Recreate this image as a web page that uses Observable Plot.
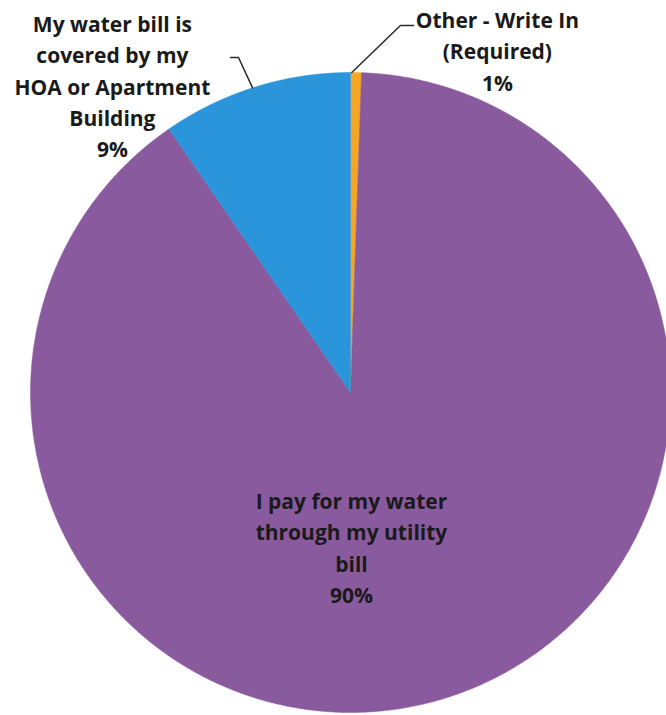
<!DOCTYPE html>
<html>
<head>
<meta charset="utf-8">
<script src="https://cdn.jsdelivr.net/npm/d3@7"></script>
<script src="https://cdn.jsdelivr.net/npm/@observablehq/plot@0.6"></script>
<style>
  html, body { margin: 0; padding: 0; background: #fff; }
  #chart svg { display: block; overflow: hidden; }
</style>
</head>
<body>
<div id="chart"></div>
<script>
// ---- data (clockwise from 12 o'clock) ----
const categories = [
  "Other - Write In (Required)",
  "I pay for my water through my utility bill",
  "My water bill is covered by my HOA or Apartment Building"
];
const shares = [0.55, 89.85, 9.6];
const pctLabels = ["1%", "90%", "9%"];
const labelLines = [
  ["Other - Write In", "(Required)"],
  ["I pay for my water", "through my utility", "bill"],
  ["My water bill is", "covered by my", "HOA or Apartment", "Building"]
];
const colors = ["#f6a622", "#8a5a9e", "#2a95da"];

// ---- layout (unit-circle coordinates) ----
const labelPos = [[0.459, 1.072], [0.003, -0.48], [-0.744, 0.9625]];
const leaders = [
  [[0.197, 1.147], [0.156, 1.147], [0.004, 1.0]],
  null,
  [[-0.375, 1.047], [-0.35, 1.047], [-0.306, 0.952]]
];

const rows = categories.map((c, i) => ({key: c, value: shares[i]}));
const arcs = d3.pie().sort(null).value(d => d.value).startAngle(0).endAngle(2 * Math.PI)(rows);

const slicePts = [];
for (const a of arcs) {
  const key = a.data.key;
  slicePts.push({key, x: 0, y: 0});
  const n = Math.max(2, Math.ceil((a.endAngle - a.startAngle) / 0.004));
  for (let k = 0; k <= n; k++) {
    const t = a.startAngle + (a.endAngle - a.startAngle) * k / n;
    slicePts.push({key, x: Math.sin(t), y: Math.cos(t)});
  }
  slicePts.push({key, x: 0, y: 0});
}

const labelRows = categories.map((c, i) => ({
  key: c,
  x: labelPos[i][0],
  y: labelPos[i][1],
  text: [...labelLines[i], pctLabels[i]].join("\n")
}));

const leaderPts = [];
leaders.forEach((l, i) => { if (l) l.forEach(p => leaderPts.push({key: categories[i], x: p[0], y: p[1]})); });

const chart = Plot.plot({
  width: 666,
  height: 715,
  margin: 0,
  x: {domain: [-1, 1], range: [30, 670], axis: null},
  y: {domain: [-1, 1], range: [712, 72], axis: null},
  color: {domain: categories, range: colors},
  marks: [
    Plot.line(slicePts, {x: "x", y: "y", z: "key", fill: "key", stroke: "key", strokeWidth: 0.5, curve: "linear"}),
    Plot.line(leaderPts, {x: "x", y: "y", z: "key", stroke: "#2a2a2a", strokeWidth: 1.5}),
    Plot.text(labelRows, {
      x: "x", y: "y", text: "text",
      fontSize: 21, fontWeight: "bold", fontFamily: "Open Sans",
      lineHeight: 1.49, lineAnchor: "middle", textAnchor: "middle",
      fill: "#1a1a1a"
    })
  ]
});
document.getElementById("chart").appendChild(chart);
</script>
</body>
</html>
